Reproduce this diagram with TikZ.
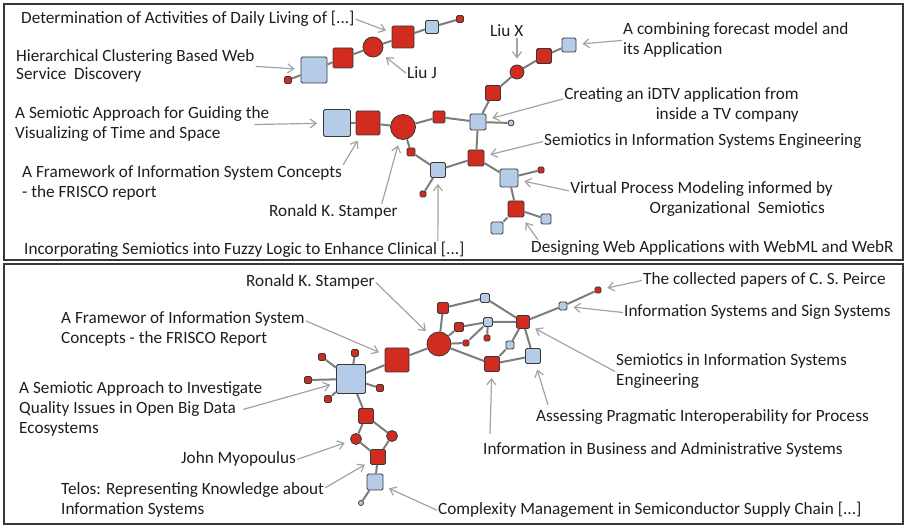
\documentclass[tikz,border=0pt]{standalone}
\usepackage{fontspec}
\setmainfont{Carlito}
\usetikzlibrary{arrows.meta}
\definecolor{netred}{HTML}{D22B1F}
\definecolor{netblue}{HTML}{B5CCE9}
\definecolor{rim}{HTML}{383838}
\definecolor{linkgray}{HTML}{7D7D7D}
\definecolor{hint}{HTML}{A3A3A3}
\definecolor{ink}{HTML}{1E1E1E}
\begin{document}
\begin{tikzpicture}[x=1pt, y=-1pt,
    rsq/.style={draw=rim, fill=netred, line width=.8pt, rounded corners=1.5pt, inner sep=0pt, minimum size=#1pt},
    bsq/.style={draw=rim, fill=netblue, line width=.8pt, rounded corners=1.5pt, inner sep=0pt, minimum size=#1pt},
    rdot/.style={circle, draw=rim, fill=netred, line width=.8pt, inner sep=0pt, minimum size=#1pt},
    bdot/.style={circle, draw=rim, fill=netblue, line width=.8pt, inner sep=0pt, minimum size=#1pt},
    lbl/.style={font=\fontsize{17.2}{20}\selectfont, text=ink, inner sep=1pt, align=left},
    tie/.style={draw=linkgray, line width=2pt},
    pointer/.style={draw=hint, line width=1.2pt, -{Straight Barb[length=6pt,width=9pt]}, shorten >=6pt}]
	\useasboundingbox (0,0) rectangle (906,526);
	\draw[rim, line width=1.6pt] (4,4)   rectangle (903,260);
	\draw[rim, line width=1.6pt] (4,264) rectangle (903,524);

	\node[rsq=7]   (a1)  at (288,80)  {};
	\node[bsq=26]  (a2)  at (314,70)  {};
	\node[rsq=20]  (a3)  at (343,58)  {};
	\node[rdot=20] (a4)  at (373,47)  {};
	\node[rsq=22]  (a5)  at (403,37)  {};
	\node[bsq=13]  (a6)  at (432,27)  {};
	\node[rsq=7]   (a7)  at (460,19)  {};
	\node[bsq=27]  (b1)  at (337,123) {};
	\node[rsq=24]  (b2)  at (368,123) {};
	\node[rdot=25] (b3)  at (403,127) {};
	\node[rsq=12]  (b4)  at (439,117) {};
	\node[bsq=16]  (b5)  at (478,122) {};
	\node[bdot=6]  (b6)  at (511,123) {};
	\node[rsq=15]  (b7)  at (493,93)  {};
	\node[rdot=14] (b8)  at (517,72)  {};
	\node[rsq=15]  (b9)  at (544,56)  {};
	\node[bsq=14]  (b10) at (569,45)  {};
	\node[rsq=8]   (b11) at (411,152) {};
	\node[bsq=15]  (b12) at (438,170) {};
	\node[rsq=6]   (b13) at (423,194) {};
	\node[rsq=16]  (b14) at (476,158) {};
	\node[bsq=18]  (b15) at (509,178) {};
	\node[rsq=6]   (b16) at (541,170) {};
	\node[rsq=16]  (b17) at (516,209) {};
	\node[bsq=10]  (b18) at (546,219) {};
	\node[bsq=12]  (b19) at (497,228) {};
	\draw[tie] (a1) -- (a2) -- (a3) -- (a4) -- (a5) -- (a6) -- (a7);
	\draw[tie] (b1) -- (b2) -- (b3) -- (b4) -- (b5) -- (b6);
	\draw[tie] (b5) -- (b7) -- (b8) -- (b9) -- (b10);
	\draw[tie] (b3) -- (b11) -- (b12) -- (b14) -- (b5);
	\draw[tie] (b12) -- (b13);
	\draw[tie] (b14) -- (b15) -- (b16);
	\draw[tie] (b15) -- (b17) -- (b18);
	\draw[tie] (b17) -- (b19);

	\node[lbl, anchor=base west] (det)    at (20,24)   {Determination of Activities of Daily Living of [...]};
	\node[lbl, anchor=base west] (hier)   at (15,80)   {Hierarchical Clustering Based Web\\[-2pt]Service\hspace{.45em}Discovery};
	\node[lbl, anchor=base west] (liuj)   at (406,79)  {Liu J};
	\node[lbl, anchor=base west] (liux)   at (489,37)  {Liu X};
	\node[lbl, anchor=base west] (comb)   at (622,55)  {A combining forecast model and\\its Application};
	\node[lbl, anchor=base west] (semap)  at (14,139)  {A Semiotic Approach for Guiding the\\Visualizing of Time and Space};
	\node[lbl, anchor=base west] (frisco) at (21,198)  {A Framework of Information System Concepts\\- the FRISCO report};
	\node[lbl, anchor=base west] (ron)    at (268,217) {Ronald K. Stamper};
	\node[lbl, anchor=base west] (fuzzy)  at (23,255)  {Incorporating Semiotics into Fuzzy Logic to Enhance Clinical [...]};
	\node[lbl, anchor=base east, align=right] (idtv) at (800,120) {Creating an iDTV application from\\inside a TV company};
	\node[lbl, anchor=base west] (sise)   at (543,146) {Semiotics in Information Systems Engineering};
	\node[lbl, anchor=base east, align=right] (vpm)  at (834,214) {Virtual Process Modeling informed by\\Organizational\hspace{.45em}Semiotics\hspace*{8pt}};
	\node[lbl, anchor=base west] (webml)  at (530,253) {Designing Web Applications with WebML and WebR};
	\draw[pointer] (det.east) -- (a5);
	\draw[pointer] (hier.east) -- (a2);
	\draw[pointer] (liuj.west) -- (a4);
	\draw[pointer] (b8 |- liux.south) -- (b8);
	\draw[pointer] (comb.west) -- (b10);
	\draw[pointer] ([xshift=-16pt]semap.east) -- (b1);
	\draw[pointer] (frisco.north east) -- (b2);
	\draw[pointer] ([xshift=-17pt]ron.north east) -- (b3);
	\draw[pointer] ([xshift=-28pt]fuzzy.north east) -- (b12);
	\draw[pointer] ([yshift=-12pt]idtv.north west) -- (b5);
	\draw[pointer] (sise.west) -- (b14);
	\draw[pointer] ([yshift=-10pt]vpm.north west) -- (b15);
	\draw[pointer] ([xshift=8pt]webml.north west) -- (b17);

	\node[bsq=29]  (c1)  at (351,379) {};
	\node[rsq=24]  (c2)  at (397,360) {};
	\node[rsq=7]   (c3)  at (322,357) {};
	\node[rsq=7]   (c4)  at (355,353) {};
	\node[rsq=7]   (c5)  at (308,380) {};
	\node[rsq=7]   (c6)  at (380,388) {};
	\node[rsq=7]   (c7)  at (328,399) {};
	\node[rsq=15]  (c8)  at (366,416) {};
	\node[rdot=11] (c9)  at (356,439) {};
	\node[rdot=11] (c10) at (392,436) {};
	\node[rsq=15]  (c11) at (378,457) {};
	\node[bsq=16]  (c12) at (375,482) {};
	\node[bdot=5]  (c13) at (361,503) {};
	\node[rdot=24] (d1)  at (439,344) {};
	\node[rsq=11]  (d2)  at (443,308) {};
	\node[bsq=9]   (d3)  at (485,298) {};
	\node[rsq=9]   (d4)  at (459,327) {};
	\node[bsq=9]   (d5)  at (488,322) {};
	\node[rsq=6]   (d6)  at (466,343) {};
	\node[rsq=6]   (d7)  at (487,338) {};
	\node[rsq=13]  (d8)  at (523,322) {};
	\node[bsq=8]   (d9)  at (563,306) {};
	\node[rsq=6]   (d10) at (598,290) {};
	\node[bsq=8]   (d11) at (510,345) {};
	\node[rsq=15]  (d12) at (492,364) {};
	\node[bsq=15]  (d13) at (533,356) {};
	\draw[tie] (c1) -- (c2) -- (d1);
	\draw[tie] (c3) -- (c1) -- (c4);
	\draw[tie] (c5) -- (c1) -- (c6);
	\draw[tie] (c7) -- (c1);
	\draw[tie] (c1) -- (c8) -- (c9) -- (c11) -- (c12) -- (c13);
	\draw[tie] (c8) -- (c10) -- (c11);
	\draw[tie] (d1) -- (d2) -- (d3) -- (d8);
	\draw[tie] (d1) -- (d4) -- (d5) -- (d6) -- (d1);
	\draw[tie] (d5) -- (d7);
	\draw[tie] (d5) -- (d8) -- (d11) -- (d12);
	\draw[tie] (d1) -- (d12) -- (d13) -- (d8);
	\draw[tie] (d8) -- (d9) -- (d10);

	\node[lbl, anchor=base west] (ron2)    at (245,287) {Ronald K. Stamper};
	\node[lbl, anchor=base west] (frisco2) at (60,344)  {A Framewor of Information System\\Concepts - the FRISCO Report};
	\node[lbl, anchor=base west] (semap2)  at (18,434)  {A Semiotic Approach to Investigate\\Quality Issues in Open Big Data\\Ecosystems};
	\node[lbl, anchor=base west] (john)    at (180,464) {John Myopoulus};
	\node[lbl, anchor=base west] (telos)   at (60,515)  {Telos: Representing Knowledge about\\Information Systems};
	\node[lbl, anchor=base west] (cplx)    at (437,515) {Complexity Management in Semiconductor Supply Chain [...]};
	\node[lbl, anchor=base west] (infobiz) at (482,455) {Information in Business and Administrative Systems};
	\node[lbl, anchor=base west] (assess)  at (535,422) {Assessing Pragmatic Interoperability for Process};
	\node[lbl, anchor=base west] (sise2)   at (615,386) {Semiotics in Information Systems\\Engineering};
	\node[lbl, anchor=base west] (iss)     at (623,317) {Information Systems and Sign Systems};
	\node[lbl, anchor=base west] (peirce)  at (642,285) {The collected papers of C. S. Peirce};
	\draw[pointer] (ron2.east) -- (d1);
	\draw[pointer] ([yshift=-10pt]frisco2.north east) -- (c2);
	\draw[pointer] ([xshift=-20pt]semap2.east) -- (c1);
	\draw[pointer] (john.east) -- (c9);
	\draw[pointer] ([yshift=-6pt]telos.north east) -- (c11);
	\draw[pointer] (cplx.west) -- (c12);
	\draw[pointer] ([shift={(8pt,8pt)}]infobiz.north west) -- (d12);
	\draw[pointer] ([shift={(13pt,4pt)}]assess.north west) -- (d13);
	\draw[pointer] (sise2.west) -- (d8);
	\draw[pointer] (iss.west) -- (d9);
	\draw[pointer] (peirce.west) -- (d10);
\end{tikzpicture}
\end{document}
